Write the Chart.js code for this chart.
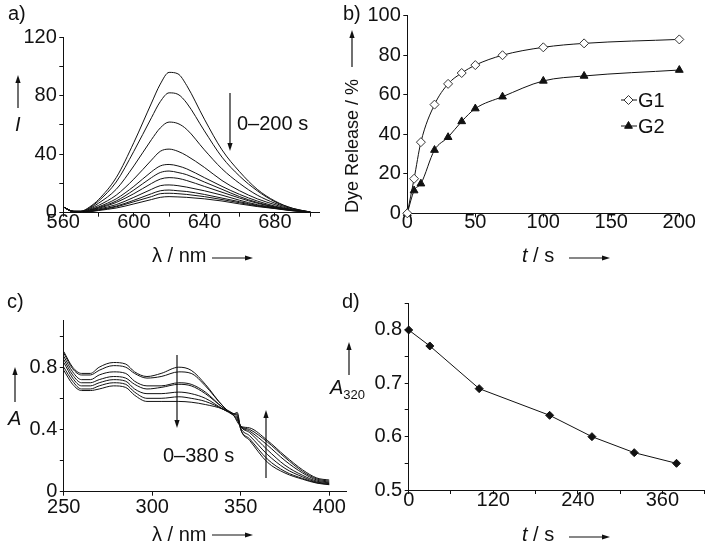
<!DOCTYPE html>
<html>
<head>
<meta charset="utf-8">
<script src="https://cdn.jsdelivr.net/npm/chart.js@4.4.1/dist/chart.umd.min.js"></script>
<style>
  html, body { margin: 0; padding: 0; background: #fff; }
  #wrap { position: relative; width: 714px; height: 550px; overflow: hidden; }
  #wrap canvas { position: absolute; left: 0; top: 0; }
</style>
</head>
<body>
<div id="wrap">
  <canvas id="chartA" width="714" height="550"></canvas>
  <canvas id="chartB" width="714" height="550"></canvas>
  <canvas id="chartC" width="714" height="550"></canvas>
  <canvas id="chartD" width="714" height="550"></canvas>
</div>
<script>
// ---- panel a: emission spectra, 0-200 s (nm / intensity) ----
const wlA = [560, 565, 570, 575, 580, 590, 600, 610, 615, 620, 625, 630, 640, 650, 660, 670, 680, 690, 700];
const specA1  = [4, 1, 1.0, 4.0, 9.0, 24, 48, 75, 88, 96, 95, 87, 64, 43, 28, 16, 8.0, 3.0, 0.5];
const specA2  = [4, 1, 1.0, 3.5, 8.0, 21, 42, 65, 76, 82, 81, 75, 56, 38, 25, 15, 7.5, 3.0, 0.5];
const specA3  = [4, 1, 1.0, 3.0, 6.5, 16, 32, 50, 58, 62, 61, 57, 43, 30, 20, 12, 6.5, 2.5, 0.5];
const specA4  = [4, 1, 0.8, 2.5, 5.0, 12, 23, 36, 42, 43.5, 42, 39, 31, 22, 15, 9.5, 5.5, 2.0, 0.5];
const specA5  = [4, 1, 0.6, 2.0, 4.0, 9.5, 18, 28, 32, 33, 32, 30, 24, 18, 12.5, 8.0, 4.5, 2.0, 0.5];
const specA6  = [4, 1, 0.5, 1.8, 3.5, 8.0, 15.5, 24, 27.5, 28.5, 27.5, 26, 21, 16, 11, 7.0, 4.0, 1.8, 0.5];
const specA7  = [4, 1, 0.4, 1.5, 3.0, 7.0, 13, 20, 23, 24, 23.5, 22, 18, 14, 10, 6.5, 3.8, 1.7, 0.5];
const specA8  = [4, 1, 0.3, 1.2, 2.5, 5.5, 10.5, 16, 18.5, 19, 18.5, 17.5, 15, 12, 8.5, 5.5, 3.5, 1.6, 0.5];
const specA9  = [4, 1, 0.2, 1.0, 2.0, 4.5, 8.5, 13, 15, 15.5, 15, 14.5, 12.5, 10, 7.5, 5.0, 3.2, 1.5, 0.5];
const specA10 = [4, 1, 0.2, 0.8, 1.8, 4.0, 7.5, 11, 13, 13.3, 13, 12.5, 11, 9.0, 6.8, 4.6, 3.0, 1.4, 0.5];
const specA11 = [4, 1, 0.1, 0.6, 1.5, 3.2, 6.0, 9.0, 10.5, 11, 10.8, 10.5, 9.5, 8.0, 6.0, 4.2, 2.8, 1.3, 0.5];
const spectraA = [specA1, specA2, specA3, specA4, specA5, specA6, specA7, specA8, specA9, specA10, specA11];

// ---- panel b: dye release kinetics ----
const timeB = [0, 5, 10, 20, 30, 40, 50, 70, 100, 130, 200];
const releaseG1 = [0, 17.5, 36, 55, 65.5, 71, 75, 80, 84, 86, 88];
const releaseG2 = [0, 11.5, 15, 32, 38.5, 46.5, 53, 59, 67, 69.5, 72.5];

// ---- panel c: absorption spectra, 0-380 s ----
const wlC = [250, 255, 260, 265, 270, 278, 285, 290, 297, 305, 315, 322, 330, 340, 346, 348, 350, 355, 365, 375, 385, 393, 400];
const absC1 = [0.90, 0.80, 0.76, 0.76, 0.80, 0.83, 0.82, 0.77, 0.74, 0.76, 0.80, 0.78, 0.69, 0.55, 0.50, 0.51, 0.40, 0.33, 0.19, 0.12, 0.080, 0.055, 0.045];
const absC2 = [0.89, 0.79, 0.75, 0.75, 0.78, 0.81, 0.80, 0.76, 0.73, 0.74, 0.77, 0.76, 0.68, 0.55, 0.50, 0.50, 0.40, 0.34, 0.21, 0.13, 0.085, 0.058, 0.048];
const absC3 = [0.87, 0.77, 0.72, 0.72, 0.75, 0.77, 0.76, 0.71, 0.68, 0.68, 0.70, 0.69, 0.64, 0.54, 0.50, 0.49, 0.41, 0.36, 0.24, 0.15, 0.095, 0.062, 0.052];
const absC4 = [0.85, 0.75, 0.70, 0.70, 0.72, 0.74, 0.73, 0.69, 0.66, 0.67, 0.69, 0.68, 0.63, 0.54, 0.50, 0.48, 0.42, 0.38, 0.27, 0.17, 0.105, 0.068, 0.057];
const absC5 = [0.83, 0.73, 0.68, 0.68, 0.70, 0.72, 0.71, 0.66, 0.63, 0.63, 0.64, 0.63, 0.60, 0.53, 0.49, 0.47, 0.42, 0.39, 0.30, 0.20, 0.12, 0.075, 0.062];
const absC6 = [0.80, 0.71, 0.66, 0.66, 0.68, 0.70, 0.69, 0.64, 0.60, 0.60, 0.61, 0.60, 0.58, 0.53, 0.49, 0.46, 0.42, 0.40, 0.32, 0.22, 0.13, 0.082, 0.068];
const absC7 = [0.78, 0.69, 0.65, 0.65, 0.66, 0.68, 0.67, 0.62, 0.58, 0.58, 0.58, 0.575, 0.56, 0.53, 0.49, 0.45, 0.42, 0.41, 0.33, 0.23, 0.14, 0.088, 0.075];
const spectraC = [absC1, absC2, absC3, absC4, absC5, absC6, absC7];

// ---- panel d: A320 vs time ----
const timeD = [0, 30, 100, 200, 260, 320, 380];
const a320 = [0.80, 0.77, 0.69, 0.64, 0.60, 0.57, 0.55];

const FAMILY = '"Liberation Sans", Arial, Helvetica, sans-serif';
const INK = '#111';
Chart.defaults.font.family = FAMILY;
Chart.defaults.font.size = 20;
Chart.defaults.color = INK;
Chart.defaults.animation = false;
Chart.defaults.plugins.legend.display = false;
Chart.defaults.plugins.tooltip.enabled = false;

const xy = (xs, ys) => xs.map((x, i) => ({ x, y: ys[i] }));

// axis with outward tick marks only, labels on some ticks
function axis(min, max, step, lastTick, labelFn, horizontal, pad) {
  return {
    type: 'linear', min, max,
    afterBuildTicks: s => { s.ticks = s.ticks.filter(t => t.value <= lastTick + 1e-9); },
    afterFit: s => { if (horizontal) s.height = 40; else s.width = 60; },
    ticks: {
      stepSize: step, includeBounds: false, autoSkip: false, maxRotation: 0, padding: pad, color: INK,
      font: { size: 20, lineHeight: 1 },
      callback: labelFn
    },
    grid: { drawOnChartArea: false, tickLength: 4, color: INK, lineWidth: 1 },
    border: { color: INK, width: 1 }
  };
}
// chart area placed in page pixels
function area(left, top, right, bottom) {
  return { padding: { left: left - 60, top: top, right: 714 - right, bottom: 550 - bottom - 40 } };
}
const every = n => v => (Math.abs(v / n - Math.round(v / n)) < 1e-6 ? (Math.round(v * 10) / 10).toString() : '');

function arrow(ctx, x1, y1, x2, y2) {
  const a = Math.atan2(y2 - y1, x2 - x1), L = 8, W = 2.6;
  ctx.save();
  ctx.strokeStyle = INK; ctx.fillStyle = INK; ctx.lineWidth = 1.2;
  ctx.beginPath(); ctx.moveTo(x1, y1);
  ctx.lineTo(x2 - Math.cos(a) * L * 0.8, y2 - Math.sin(a) * L * 0.8); ctx.stroke();
  ctx.translate(x2, y2); ctx.rotate(a);
  ctx.beginPath(); ctx.moveTo(0, 0); ctx.lineTo(-L, -W); ctx.lineTo(-L, W); ctx.closePath(); ctx.fill();
  ctx.restore();
}
function txt(ctx, s, x, y, style, size) {
  ctx.save();
  ctx.fillStyle = INK; ctx.textBaseline = 'alphabetic'; ctx.textAlign = 'left';
  ctx.font = (style || '') + ' ' + (size || 20) + 'px ' + FAMILY;
  ctx.fillText(s, x, y);
  const w = ctx.measureText(s).width;
  ctx.restore();
  return x + w;
}
function notes(drawFn) {
  return { id: 'notes', afterDraw(chart) { drawFn(chart.ctx, chart); } };
}

// ---------- panel a ----------
new Chart(document.getElementById('chartA'), {
  type: 'line',
  data: {
    datasets: spectraA.map(s => ({
      data: xy(wlA, s), borderColor: INK, borderWidth: 1, pointRadius: 0,
      cubicInterpolationMode: 'monotone'
    }))
  },
  options: {
    responsive: false, devicePixelRatio: 1,
    layout: area(63.3, 37.3, 319, 212.7),
    scales: {
      x: axis(560, 705, 20, 700, every(40), true, -4),
      y: axis(0, 120, 20, 120, every(40), false, 2.5)
    }
  },
  plugins: [notes(ctx => {
    txt(ctx, 'a)', 8, 20);
    arrow(ctx, 18, 108, 18, 75);
    txt(ctx, 'I', 15, 131, 'italic');
    txt(ctx, 'λ / nm', 152, 262);
    arrow(ctx, 212, 258, 253, 258);
    arrow(ctx, 230, 93, 230, 151);
    txt(ctx, '0–200 s', 237, 130);
  })]
});

// ---------- panel b ----------
new Chart(document.getElementById('chartB'), {
  type: 'line',
  data: {
    datasets: [
      { label: 'G1', data: xy(timeB, releaseG1), borderColor: INK, borderWidth: 1,
        cubicInterpolationMode: 'monotone', clip: false,
        pointStyle: 'rectRot', pointRadius: 4.5, pointBackgroundColor: '#fff',
        pointBorderColor: '#333', pointBorderWidth: 1 },
      { label: 'G2', data: xy(timeB, releaseG2), borderColor: INK, borderWidth: 1,
        cubicInterpolationMode: 'monotone', clip: false,
        pointStyle: 'triangle', pointRadius: 4.5, pointBackgroundColor: INK,
        pointBorderColor: INK, pointBorderWidth: 1 }
    ]
  },
  options: {
    responsive: false, devicePixelRatio: 1,
    layout: area(407.3, 15.7, 679.3, 213.3),
    scales: {
      x: axis(0, 200, 50, 200, every(50), true, -4.5),
      y: axis(0, 100, 20, 100, every(20), false, 2.5)
    }
  },
  plugins: [notes((ctx, chart) => {
    txt(ctx, 'b)', 343, 20);
    ctx.save();
    ctx.translate(358, 213); ctx.rotate(-Math.PI / 2);
    txt(ctx, 'Dye Release / %', 0, 0, '', 18);
    ctx.restore();
    arrow(ctx, 352, 67, 352, 30);
    let x = txt(ctx, 't', 522, 262, 'italic');
    txt(ctx, ' / s', x, 262);
    arrow(ctx, 569, 258, 610, 258);
    // legend
    chart.data.datasets.forEach((ds, i) => {
      const y = 100 + i * 26;
      ctx.save();
      ctx.strokeStyle = INK; ctx.lineWidth = 1;
      ctx.beginPath(); ctx.moveTo(621, y); ctx.lineTo(637, y); ctx.stroke();
      ctx.fillStyle = ds.pointBackgroundColor; ctx.strokeStyle = ds.pointBorderColor;
      Chart.helpers.drawPoint(ctx, { pointStyle: ds.pointStyle, radius: ds.pointRadius, borderWidth: 1, rotation: 0 }, 628.5, y);
      ctx.restore();
      txt(ctx, ds.label, 638, y + 7);
    });
  })]
});

// ---------- panel c ----------
new Chart(document.getElementById('chartC'), {
  type: 'line',
  data: {
    datasets: spectraC.map(s => ({
      data: xy(wlC, s), borderColor: INK, borderWidth: 1, pointRadius: 0,
      cubicInterpolationMode: 'monotone'
    }))
  },
  options: {
    responsive: false, devicePixelRatio: 1,
    layout: area(63.8, 320.5, 346.9, 491.7),
    scales: {
      x: axis(250, 410, 50, 400, every(50), true, 2),
      y: axis(0, 1.1, 0.2, 1.0, every(0.4), false, 2.5)
    }
  },
  plugins: [notes(ctx => {
    txt(ctx, 'c)', 7, 308);
    arrow(ctx, 15, 402, 15, 367);
    txt(ctx, 'A', 8, 425, 'italic');
    txt(ctx, 'λ / nm', 152, 541);
    arrow(ctx, 212, 535, 253, 535);
    arrow(ctx, 177, 355, 177, 428);
    arrow(ctx, 266, 478, 266, 410);
    txt(ctx, '0–380 s', 163, 462);
  })]
});

// ---------- panel d ----------
new Chart(document.getElementById('chartD'), {
  type: 'line',
  data: {
    datasets: [{
      data: xy(timeD, a320), borderColor: INK, borderWidth: 1, tension: 0, clip: false,
      pointStyle: 'rectRot', pointRadius: 4, pointBackgroundColor: INK, pointBorderColor: INK
    }]
  },
  options: {
    responsive: false, devicePixelRatio: 1,
    layout: area(408.7, 303.3, 704.7, 490),
    scales: {
      x: axis(0, 420, 60, 420, every(120), true, -3.5),
      y: axis(0.5, 0.85, 0.05, 0.85, every(0.1), false, 2.5)
    }
  },
  plugins: [notes(ctx => {
    txt(ctx, 'd)', 342, 308);
    arrow(ctx, 349, 375, 349, 342);
    const x = txt(ctx, 'A', 330, 394, 'italic');
    txt(ctx, '320', x, 399, '', 13);
    let x2 = txt(ctx, 't', 522, 541, 'italic');
    txt(ctx, ' / s', x2, 541);
    arrow(ctx, 569, 537, 610, 537);
  })]
});
</script>
</body>
</html>
